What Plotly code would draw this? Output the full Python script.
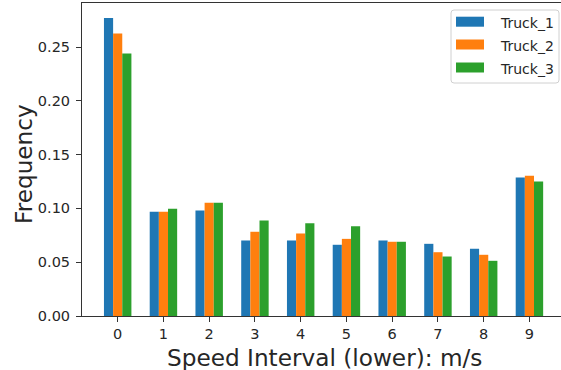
import plotly.graph_objects as go

categories = [0, 1, 2, 3, 4, 5, 6, 7, 8, 9]
truck_1 = [0.2771, 0.0968, 0.0980, 0.0702, 0.0702, 0.0662, 0.0702, 0.0671, 0.0625, 0.1287]
truck_2 = [0.2626, 0.0968, 0.1052, 0.0783, 0.0767, 0.0717, 0.0690, 0.0593, 0.0569, 0.1303]
truck_3 = [0.2440, 0.0996, 0.1052, 0.0888, 0.0862, 0.0835, 0.0690, 0.0553, 0.0513, 0.1250]
series_names = ["Truck_1", "Truck_2", "Truck_3"]
colors = ["#1f77b4", "#ff7f0e", "#2ca02c"]
y_ticks = [0.0, 0.05, 0.10, 0.15, 0.20, 0.25]

W, H = 561, 370
ML, MR, MT, MB = 82, 0, 3, 54
PW, PH = W - ML - MR, H - MT - MB
FONT = "DejaVu Sans"
TXT = "#262626"
TICKF = 14.5
TITLEF = 23.2


def px(x):
    return (x - ML) / PW


def py(y):
    return (H - MB - y) / PH


fig = go.Figure()
offsets = [-0.3, -0.1, 0.1]
for name, vals, col, off in zip(series_names, [truck_1, truck_2, truck_3], colors, offsets):
    fig.add_trace(go.Bar(x=categories, y=vals, name=name, width=0.2, offset=off,
                         marker=dict(color=col, line=dict(width=0)), showlegend=False))

ymax = 1.05 * max(truck_1 + truck_2 + truck_3)

fig.update_layout(
    width=W, height=H,
    margin=dict(l=ML, r=MR, t=MT, b=MB, pad=0),
    paper_bgcolor="white", plot_bgcolor="white",
    barmode="overlay",
    font=dict(family=FONT, color=TXT, size=14),
    xaxis=dict(range=[-0.78, 9.69], tickmode="array", tickvals=categories,
               ticktext=[str(c) for c in categories],
               showline=True, linecolor="#333333", linewidth=1, mirror=True,
               ticks="outside", ticklen=5, tickcolor="#333333", tickwidth=1,
               showgrid=False, zeroline=False, tickfont=dict(size=TICKF, family=FONT, color=TXT)),
    yaxis=dict(range=[0, ymax], tickmode="array", tickvals=y_ticks,
               ticktext=[f"{v:.2f}" for v in y_ticks],
               showline=True, linecolor="#333333", linewidth=1, mirror=False,
               ticks="outside", ticklen=5, tickcolor="#333333", tickwidth=1,
               ticklabelstandoff=3,
               showgrid=False, zeroline=False, tickfont=dict(size=TICKF, family=FONT, color=TXT)),
)

# axis titles
fig.add_annotation(text="Frequency", xref="paper", yref="paper", x=px(23), y=py(164),
                   showarrow=False, textangle=-90, xanchor="center", yanchor="middle",
                   font=dict(size=TITLEF, family=FONT, color=TXT))
fig.add_annotation(text="Speed Interval (lower): m/s", xref="paper", yref="paper",
                   x=px(324.5), y=py(357), showarrow=False, xanchor="center", yanchor="middle",
                   font=dict(size=TITLEF, family=FONT, color=TXT))

# legend (drawn to match matplotlib style)
bx0, by0, bx1, by1, r = 451, 10, 559, 83, 3
def P(x, y):
    return f"{px(x)},{py(y)}"
path = (f"M {P(bx0 + r, by0)} L {P(bx1 - r, by0)} Q {P(bx1, by0)} {P(bx1, by0 + r)} "
        f"L {P(bx1, by1 - r)} Q {P(bx1, by1)} {P(bx1 - r, by1)} "
        f"L {P(bx0 + r, by1)} Q {P(bx0, by1)} {P(bx0, by1 - r)} "
        f"L {P(bx0, by0 + r)} Q {P(bx0, by0)} {P(bx0 + r, by0)} Z")
fig.add_shape(type="path", path=path, xref="paper", yref="paper",
              line=dict(color="#d0d0d0", width=1), fillcolor="rgba(255,255,255,0.8)")
centers = [21.7, 44.5, 67.5]
for name, col, cy in zip(series_names, colors, centers):
    fig.add_shape(type="rect", xref="paper", yref="paper",
                  x0=px(456), x1=px(484), y0=py(cy - 5), y1=py(cy + 5),
                  line=dict(width=0), fillcolor=col)
    fig.add_annotation(text=name, xref="paper", yref="paper", x=px(498), y=py(cy + 1),
                       showarrow=False, xanchor="left", yanchor="middle",
                       font=dict(size=14, family=FONT, color=TXT))

fig.write_html("out.html", config={"displayModeBar": False},
               post_script="document.body.style.margin='0px';document.body.style.overflow='hidden';")
